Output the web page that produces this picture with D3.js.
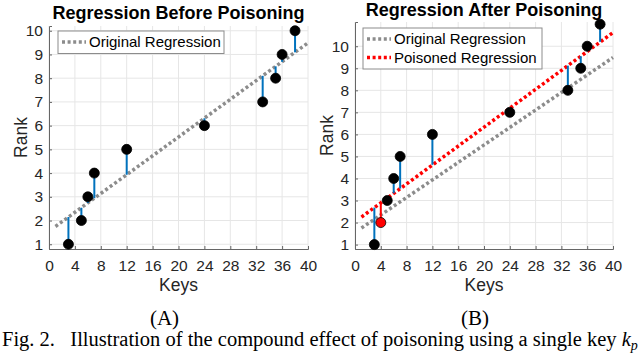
<!DOCTYPE html>
<html>
<head>
<meta charset="utf-8">
<script src="https://cdn.jsdelivr.net/npm/d3@7"></script>
<style>
  body { margin: 0; background: #fff; }
  svg { display: block; }
</style>
</head>
<body>
<div id="container"></div>
<script>
/* DATA */
const keysA = [3, 5, 6, 7, 12, 24, 33, 35, 36, 38];
const ranksA = [1, 2, 3, 4, 5, 6, 7, 8, 9, 10];
const fitA = [2.15, 2.54, 2.74, 2.94, 3.93, 6.31, 8.10, 8.50, 8.69, 9.09]; // original line at each key

const keysB = [3, 4, 5, 6, 7, 12, 24, 33, 35, 36, 38];
const ranksB = [1, 2, 3, 4, 5, 6, 7, 8, 9, 10, 11];
const fitB = [2.68, 2.90, 3.11, 3.33, 3.54, 4.62, 7.19, 9.12, 9.55, 9.77, 10.20]; // poisoned line at each key
const poisonKey = 4;

const origLine = [[1, 1.75], [40, 9.49]];
const poisonLine = [[1, 2.25], [40, 10.62]];

const xTicks = [0, 4, 8, 12, 16, 20, 24, 28, 32, 36, 40];
const yTicks = [1, 2, 3, 4, 5, 6, 7, 8, 9, 10];

/* CONSTANTS */
const width = 640, height = 354;
const sans = "'Liberation Sans', Arial, sans-serif";
const serif = "'Liberation Serif', 'Times New Roman', serif";
const blue = "#0072bd", grey = "#8c8c8c", red = "#ff0000";

const svg = d3.select("#container").append("svg")
  .attr("width", width)
  .attr("height", height);

function panel(opt) {
  const x = d3.scaleLinear().domain([0, 40]).range(opt.xr);
  const y = d3.scaleLinear().domain(opt.yd).range(opt.yr);
  const g = svg.append("g");

  // grid
  g.append("g").selectAll("line.vg").data(xTicks).join("line")
    .attr("x1", d => x(d)).attr("x2", d => x(d))
    .attr("y1", opt.yr[0]).attr("y2", opt.yr[1])
    .attr("stroke", "#e6e6e6").attr("stroke-width", 1);
  g.append("g").selectAll("line.hg").data(yTicks).join("line")
    .attr("x1", opt.xr[0]).attr("x2", opt.xr[1])
    .attr("y1", d => y(d)).attr("y2", d => y(d))
    .attr("stroke", "#e6e6e6").attr("stroke-width", 1);

  // axes
  const xAxis = d3.axisBottom(x).tickValues(xTicks).tickSize(-3).tickPadding(11);
  const yAxis = d3.axisLeft(y).tickValues(yTicks).tickSize(-3).tickPadding(6);
  const gx = g.append("g").attr("transform", `translate(0,${opt.yr[0]})`).call(xAxis);
  const gy = g.append("g").attr("transform", `translate(${opt.xr[0]},0)`).call(yAxis);
  [gx, gy].forEach(a => {
    a.select(".domain").attr("stroke", "#666");
    a.selectAll(".tick line").attr("stroke", "#666");
    a.selectAll("text").attr("fill", "#262626")
      .style("font-family", sans).style("font-size", "15.5px");
  });

  // regression lines
  const line = d3.line().x(d => x(d[0])).y(d => y(d[1]));
  opt.lines.forEach(l => {
    g.append("path").datum(l.data).attr("d", line)
      .attr("fill", "none").attr("stroke", l.color)
      .attr("stroke-width", 3.5).attr("stroke-dasharray", "3 2.6");
  });

  // stems
  g.append("g").selectAll("line").data(opt.keys).join("line")
    .attr("x1", d => x(d)).attr("x2", d => x(d))
    .attr("y1", (d, i) => y(opt.ranks[i])).attr("y2", (d, i) => y(opt.fit[i]))
    .attr("stroke", d => d === opt.special ? red : blue)
    .attr("stroke-width", 2);

  // points
  g.append("g").selectAll("circle").data(opt.keys).join("circle")
    .attr("cx", d => x(d)).attr("cy", (d, i) => y(opt.ranks[i]))
    .attr("r", 5)
    .attr("fill", d => d === opt.special ? red : "#000")
    .attr("stroke", "#000").attr("stroke-width", 0.8);

  // title + labels
  const cx = (opt.xr[0] + opt.xr[1]) / 2;
  g.append("text").attr("x", cx).attr("y", opt.titleY)
    .attr("text-anchor", "middle").style("font-family", sans)
    .style("font-size", "18px").style("font-weight", "bold")
    .text(opt.title);
  g.append("text").attr("x", cx).attr("y", 291)
    .attr("text-anchor", "middle").style("font-family", sans)
    .style("font-size", "17.5px").attr("fill", "#262626").text("Keys");
  g.append("text")
    .attr("transform", `translate(${opt.xr[0] - 22},${(opt.yr[0] + opt.yr[1]) / 2}) rotate(-90)`)
    .attr("text-anchor", "middle").style("font-family", sans)
    .style("font-size", "17.5px").attr("fill", "#262626").text("Rank");

  // legend
  const lg = g.append("g").attr("transform", `translate(${opt.legend[0]},${opt.legend[1]})`);
  lg.append("rect").attr("width", opt.legend[2]).attr("height", 4 + 18.5 * opt.lines.length)
    .attr("fill", "#fff").attr("stroke", "#8c8c8c").attr("stroke-width", 1);
  opt.lines.forEach((l, i) => {
    const ly = 11 + i * 18.5;
    lg.append("line").attr("x1", 4).attr("x2", 28).attr("y1", ly).attr("y2", ly)
      .attr("stroke", l.color).attr("stroke-width", 3.5).attr("stroke-dasharray", "3 2.6");
    lg.append("text").attr("x", 31).attr("y", ly).attr("dy", "0.35em")
      .style("font-family", sans).style("font-size", "15px").attr("fill", "#000")
      .text(l.name);
  });

  svg.append("text").attr("x", opt.sub[0]).attr("y", 325)
    .attr("text-anchor", "middle").style("font-family", serif)
    .style("font-size", "21px").text(opt.sub[1]);
}

panel({
  xr: [49, 308], yd: [0.8, 10.2], yr: [249, 26],
  keys: keysA, ranks: ranksA, fit: fitA, special: null,
  lines: [{ data: origLine, color: grey, name: "Original Regression" }],
  title: "Regression Before Poisoning", titleY: 19,
  legend: [58, 31, 166], sub: [164.5, "(A)"]
});

panel({
  xr: [355, 613], yd: [0.8, 11.1], yr: [249, 22],
  keys: keysB, ranks: ranksB, fit: fitB, special: poisonKey,
  lines: [
    { data: origLine, color: grey, name: "Original Regression" },
    { data: poisonLine, color: red, name: "Poisoned Regression" }
  ],
  title: "Regression After Poisoning", titleY: 15.5,
  legend: [363, 28, 179], sub: [475, "(B)"]
});

const cap = svg.append("text").attr("x", 2).attr("y", 346)
  .style("font-family", serif).style("font-size", "20.5px");
cap.append("tspan").text("Fig. 2.\u00a0\u00a0\u00a0Illustration of the compound effect of poisoning using a single key ");
cap.append("tspan").style("font-style", "italic").text("k");
cap.append("tspan").style("font-style", "italic").style("font-size", "14px").attr("dy", 4).text("p");
</script>
</body>
</html>
